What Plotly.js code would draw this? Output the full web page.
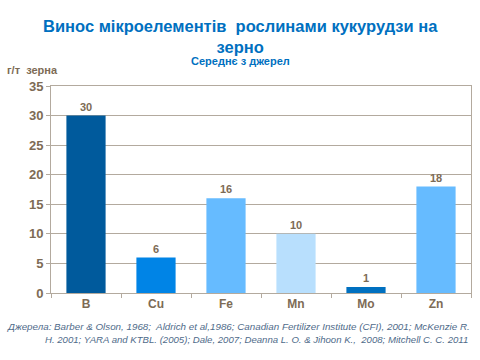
<!DOCTYPE html>
<html><head><meta charset="utf-8">
<script src="https://cdn.plot.ly/plotly-3.0.1.min.js"></script>
<style>html,body{margin:0;padding:0;background:#fff}#c{width:480px;height:360px}</style>
</head><body><div id="c"></div>
<script>
const categories = ["B", "Cu", "Fe", "Mn", "Mo", "Zn"];
const values = [30, 6, 16, 10, 1, 18];
const barColors = ["#005A9C", "#0084E6", "#66BBFF", "#B8DFFD", "#0070C0", "#66BBFF"];
const yTicks = [0, 5, 10, 15, 20, 25, 30, 35];

const brown = "#7D6B55";
const grid = "#B3AA9E";
const font = "Liberation Sans, Arial, sans-serif";

const trace = {
  type: "bar",
  x: categories,
  y: values,
  marker: {color: barColors},
  width: 0.56,
  text: values.map(String),
  textposition: "outside",
  cliponaxis: false,
  textfont: {family: font, size: 11, color: brown, weight: "bold"},
  hoverinfo: "none"
};

const layout = {
  width: 480, height: 360,
  margin: {l: 51, r: 9, t: 86, b: 67},
  paper_bgcolor: "#fff", plot_bgcolor: "#fff",
  showlegend: false,
  bargap: 0.44,
  font: {family: font},
  xaxis: {
    type: "category",
    showline: true, linecolor: grid, linewidth: 1, mirror: true,
    ticks: "outside", tickson: "boundaries", ticklen: 4, tickcolor: grid,
    tickfont: {family: font, size: 12, color: brown, weight: "bold"},
    showgrid: false, zeroline: false
  },
  yaxis: {
    range: [0, 35], tickvals: yTicks,
    showline: true, linecolor: grid, linewidth: 1, mirror: true,
    ticks: "outside", ticklen: 4, tickcolor: grid,
    gridcolor: grid, gridwidth: 1, zeroline: false,
    tickfont: {family: font, size: 13, color: brown, weight: "bold"}
  },
  annotations: [
    {xref: "paper", yref: "paper", x: 0.5, xshift: -21, y: 1, yshift: 50, xanchor: "center", yanchor: "middle",
     showarrow: false, text: "Винос мікроелементів  рослинами кукурудзи на<br>зерно",
     font: {family: font, size: 16.5, color: "#0070C0", weight: "bold"}},
    {xref: "paper", yref: "paper", x: 0.5, xshift: -21, y: 1, yshift: 25, xanchor: "center", yanchor: "middle",
     showarrow: false, text: "Середнє з джерел",
     font: {family: font, size: 11, color: "#0070C0", weight: "bold"}},
    {xref: "paper", yref: "paper", x: 0, xshift: -46, y: 1, yshift: 16, xanchor: "left", yanchor: "middle",
     showarrow: false, text: "г/т  зерна",
     font: {family: font, size: 11, color: brown, weight: "bold"}},
    {xref: "paper", yref: "paper", x: 0, xshift: -46, y: 0, yshift: -33, xanchor: "left", yanchor: "middle",
     showarrow: false,
     text: "<i>Джерела: Barber &amp; Olson, 1968;  Aldrich et al,1986; Canadian Fertilizer Institute (CFI), 2001; McKenzie R.</i>",
     font: {family: font, size: 9.8, color: "#4F6B8A"}},
    {xref: "paper", yref: "paper", x: 0, xshift: -8, y: 0, yshift: -46, xanchor: "left", yanchor: "middle",
     showarrow: false,
     text: "<i>H. 2001; YARA and KTBL. (2005); Dale, 2007; Deanna L. O. &amp; Jihoon K.,  2008; Mitchell C. C. 2011</i>",
     font: {family: font, size: 9.6, color: "#4F6B8A"}}
  ]
};

Plotly.newPlot("c", [trace], layout, {displayModeBar: false, staticPlot: true});
</script></body></html>
